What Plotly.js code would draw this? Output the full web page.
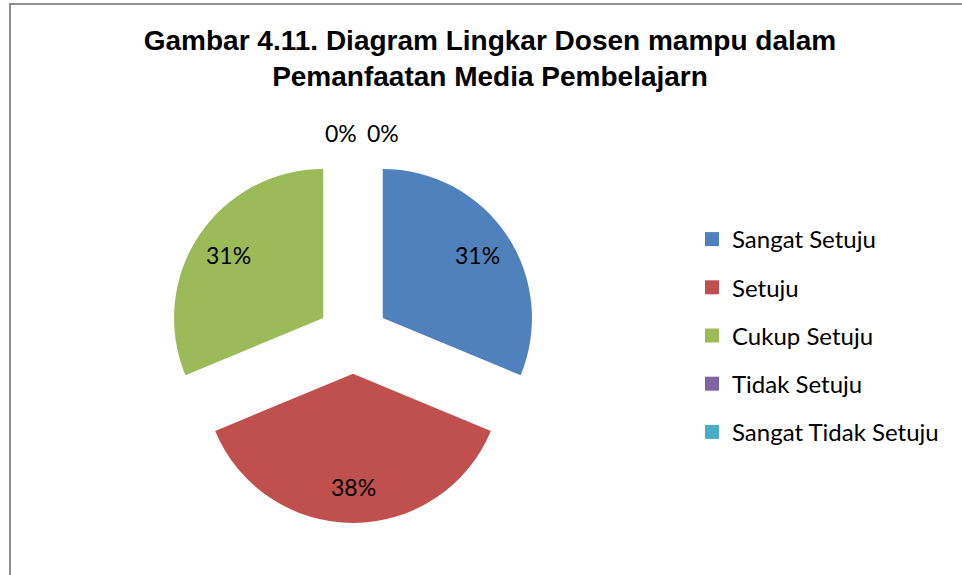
<!DOCTYPE html>
<html>
<head>
<meta charset="utf-8">
<script src="https://cdn.plot.ly/plotly-3.0.1.min.js"></script>
<style>
  html, body { margin: 0; padding: 0; background: #fff; }
  #wrap { position: relative; width: 962px; height: 575px; overflow: hidden; }
  #chart { width: 962px; height: 575px; }
  #frame { position: absolute; left: 9px; top: 3px; width: 1000px; height: 700px;
           border-left: 2px solid #8e8e8e; border-top: 2px solid #8e8e8e; pointer-events: none; }
</style>
</head>
<body>
<div id="wrap">
  <div id="chart"></div>
  <div id="frame"></div>
</div>
<script>
const titleText = 'Gambar 4.11. Diagram Lingkar Dosen mampu dalam<br>Pemanfaatan Media Pembelajarn';
const categories = ['Sangat Setuju', 'Setuju', 'Cukup Setuju', 'Tidak Setuju', 'Sangat Tidak Setuju'];
const counts = [5, 6, 5, 0, 0];
const colors = ['#4F81BD', '#C0504D', '#9BBB59', '#8064A2', '#4BACC6'];

const W = 962, H = 575;
const PULL = 0.24;
const DOM_X = [168 / W, 538 / W];
const DOM_Y = [1 - 523 / H, 1 - 153 / H];
const LABEL_FONT = { family: 'Lato, sans-serif', size: 23, color: '#000' };

const total = counts.reduce((a, b) => a + b, 0);

const pie = {
  type: 'pie',
  labels: categories,
  values: counts,
  sort: false,
  direction: 'clockwise',
  rotation: 0,
  pull: PULL,
  marker: { colors: colors, line: { width: 0 } },
  textinfo: 'none',
  domain: { x: DOM_X, y: DOM_Y },
  showlegend: false,
  hoverinfo: 'label+percent',
  automargin: false
};

// Percent labels placed along each slice's mid-angle (geometry from the pie domain)
const cx = (DOM_X[0] + DOM_X[1]) / 2 * W;
const cy = (1 - (DOM_Y[0] + DOM_Y[1]) / 2) * H;
const R = Math.min((DOM_X[1] - DOM_X[0]) * W, (DOM_Y[1] - DOM_Y[0]) * H) / 2 / (1 + PULL);
const annotations = [];
let cum = 0, zeroIdx = 0;
counts.forEach((v, i) => {
  const pct = Math.round(v / total * 100) + '%';
  if (v > 0) {
    const mid = (cum + v / 2) / total * 2 * Math.PI;
    const d = R * (PULL + 0.76);
    annotations.push({
      xref: 'paper', yref: 'paper',
      x: (cx + d * Math.sin(mid)) / W,
      y: 1 - (cy - d * Math.cos(mid)) / H,
      text: pct, showarrow: false, font: LABEL_FONT,
      xanchor: 'center', yanchor: 'middle'
    });
  } else {
    const yTop = cy - R * (1 + PULL) - 20;
    annotations.push({
      xref: 'paper', yref: 'paper',
      x: (cx + (zeroIdx === 0 ? 6 : 12)) / W,
      y: 1 - yTop / H,
      text: pct, showarrow: false, font: LABEL_FONT,
      xanchor: zeroIdx === 0 ? 'right' : 'left', yanchor: 'middle'
    });
    zeroIdx++;
  }
  cum += v;
});

const legendTraces = categories.map((c, i) => ({
  type: 'scatter',
  mode: 'markers',
  x: [null], y: [null],
  name: c,
  legendgroup: 'g' + i,
  marker: { symbol: 'square', size: 14, color: colors[i], line: { width: 0 } },
  showlegend: true,
  hoverinfo: 'skip'
}));

const layout = {
  width: W, height: H,
  margin: { l: 0, r: 0, t: 0, b: 0 },
  paper_bgcolor: '#fff',
  plot_bgcolor: 'rgba(0,0,0,0)',
  title: {
    text: titleText,
    font: { family: 'Liberation Sans, Arial, sans-serif', size: 28, color: '#000', weight: 'bold' },
    x: 490 / W, xanchor: 'center',
    y: 1 - 50 / H, yanchor: 'top', yref: 'container'
  },
  xaxis: { visible: false },
  yaxis: { visible: false },
  annotations: annotations,
  showlegend: true,
  legend: {
    x: 692 / W, xanchor: 'left',
    y: 1 - 217 / H, yanchor: 'top',
    traceorder: 'grouped',
    tracegroupgap: 14,
    font: { family: 'Lato, sans-serif', size: 24, color: '#000' },
    bgcolor: 'rgba(0,0,0,0)',
    itemclick: false, itemdoubleclick: false
  }
};

Plotly.newPlot('chart', [pie, ...legendTraces], layout, { displayModeBar: false });
</script>
</body>
</html>
